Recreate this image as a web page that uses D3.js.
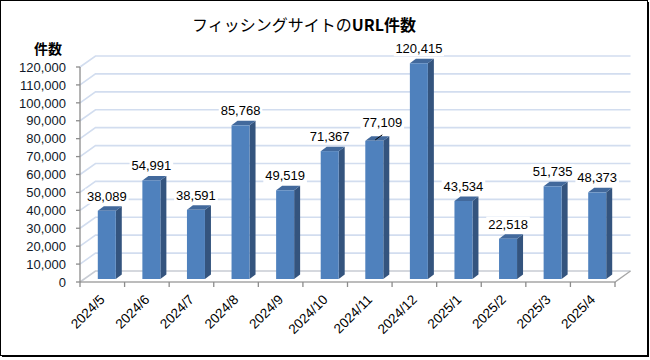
<!DOCTYPE html>
<html><head><meta charset="utf-8">
<script src="https://cdn.jsdelivr.net/npm/d3@7"></script>
<style>
html,body{margin:0;padding:0;background:#fff;}
svg{display:block;}
</style></head>
<body>
<svg id="c" width="650" height="360"></svg>
<script>
const categories = ["2024/5","2024/6","2024/7","2024/8","2024/9","2024/10","2024/11","2024/12","2025/1","2025/2","2025/3","2025/4"];
const values = [38089,54991,38591,85768,49519,71367,77109,120415,43534,22518,51735,48373];
const yTicks = [0,10000,20000,30000,40000,50000,60000,70000,80000,90000,100000,110000,120000];
const title1 = "フィッシングサイトの";
const title2 = "URL件数";
const yTitle = "件数";

const svg = d3.select("#c");
const font = "'Liberation Sans', Arial, sans-serif";
const jfont = "'Noto Sans CJK JP', sans-serif";

const X0 = 80, X1 = 615, Y0 = 282, YT = 67;
const DX = 15.5, DY = -11;         // wall depth offset
const BX = 4.5, BY = -3;           // bar front offset
const BDX = 6, BDY = -4.5;         // bar depth
const barW = 18;

const x = d3.scaleBand().domain(categories).range([X0, X1]);
const y = d3.scaleLinear().domain([0, 120000]).range([Y0, YT]);

// border
svg.append("rect").attr("x",0.5).attr("y",0.5).attr("width",647).attr("height",355)
  .attr("fill","#fff").attr("stroke","#000").attr("stroke-width",1);
svg.append("path").attr("d","M648.5,2V357M2,356.5H649").attr("stroke","#000").attr("stroke-width",1).attr("fill","none");

// gridlines (left wall + back wall)
const grid = svg.append("g");
yTicks.forEach(t => {
  const yy = y(t);
  grid.append("path")
    .attr("d", `M${X0},${yy}L${X0+DX},${yy+DY}H${X1+DX}`)
    .attr("fill","none")
    .attr("stroke", t === 0 ? "#c8ccd4" : "#d2ddef")
    .attr("stroke-width", 1.6);
});

// floor edges
svg.append("path")
  .attr("d", `M${X0},${Y0}H${X1}L${X1+DX},${Y0+DY}`)
  .attr("fill","none").attr("stroke","#a6a6a6").attr("stroke-width",1.3);

// y axis
const yAxis = svg.append("g");
yAxis.append("path").attr("d", `M${X0},${YT}V${Y0}`).attr("stroke","#8c8c8c").attr("stroke-width",1.3);
yTicks.forEach(t => {
  yAxis.append("path").attr("d", `M${X0-4},${y(t)}H${X0}`).attr("stroke","#8c8c8c").attr("stroke-width",1.3);
  yAxis.append("text").attr("x", 66).attr("y", y(t)).attr("dy","0.36em")
    .attr("text-anchor","end").attr("font-family",font).attr("font-size",13)
    .attr("fill","#101828").text(d3.format(",")(t));
});

// x ticks
const xAxis = svg.append("g");
const bounds = categories.map(c => x(c)).concat([X1]);
bounds.forEach(b => {
  xAxis.append("path").attr("d", `M${b},${Y0}V${Y0+5}`).attr("stroke","#8c8c8c").attr("stroke-width",1.3);
});
categories.forEach(c => {
  const cx = x(c) + x.bandwidth()/2;
  xAxis.append("text")
    .attr("transform", `translate(${cx},${Y0+15}) rotate(-45)`)
    .attr("text-anchor","end").attr("dy","0.35em")
    .attr("font-family",font).attr("font-size",13.5).attr("fill","#000").text(c);
});

// bars
const bars = svg.append("g");
categories.forEach((c, i) => {
  const v = values[i];
  const cx = x(c) + x.bandwidth()/2 + BX;
  const l = cx - barW/2, r = cx + barW/2;
  const top = y(v) + BY, bot = y(0) + BY;
  bars.append("path")
    .attr("d", `M${r},${bot}L${r+BDX},${bot+BDY}V${top+BDY}L${r},${top}Z`)
    .attr("fill","#34547e");
  bars.append("path")
    .attr("d", `M${l},${top}L${l+BDX},${top+BDY}H${r+BDX}L${r},${top}Z`)
    .attr("fill","#42699c");
  bars.append("rect").attr("x",l).attr("y",top).attr("width",barW).attr("height",bot-top)
    .attr("fill","#4f81bd");
});

// data labels
const labels = svg.append("g");
const labelNudge = {6: [8, -4]};
categories.forEach((c, i) => {
  const v = values[i];
  const cx = x(c) + x.bandwidth()/2 + BX;
  const top = y(v) + BY;
  const [nx, ny] = labelNudge[i] || [0, 0];
  const lx = cx + nx, ly = top - 10 + ny;
  const txt = d3.format(",")(v);
  const w = txt.length * 6.6 + 4;
  labels.append("rect").attr("x", lx - w/2).attr("y", ly - 12).attr("width", w).attr("height", 15).attr("fill","#fff");
  labels.append("text").attr("x", lx).attr("y", ly).attr("text-anchor","middle")
    .attr("font-family",font).attr("font-size",13).attr("fill","#000").text(txt);
  if (labelNudge[i]) {
    labels.append("path").attr("d", `M${cx+1},${top-1}L${cx+8},${top-6}`)
      .attr("stroke","#000").attr("stroke-width",1);
  }
});

// titles
const t = svg.append("text").attr("x", 304).attr("y", 31).attr("text-anchor","middle")
  .attr("font-family", jfont).attr("font-size", 16).attr("fill","#000");
t.append("tspan").text(title1);
t.append("tspan").attr("font-weight","bold").text(title2);

svg.append("text").attr("x", 48).attr("y", 54).attr("text-anchor","middle")
  .attr("font-family", jfont).attr("font-size", 14).attr("font-weight","bold").attr("fill","#000").text(yTitle);
</script>
</body></html>
